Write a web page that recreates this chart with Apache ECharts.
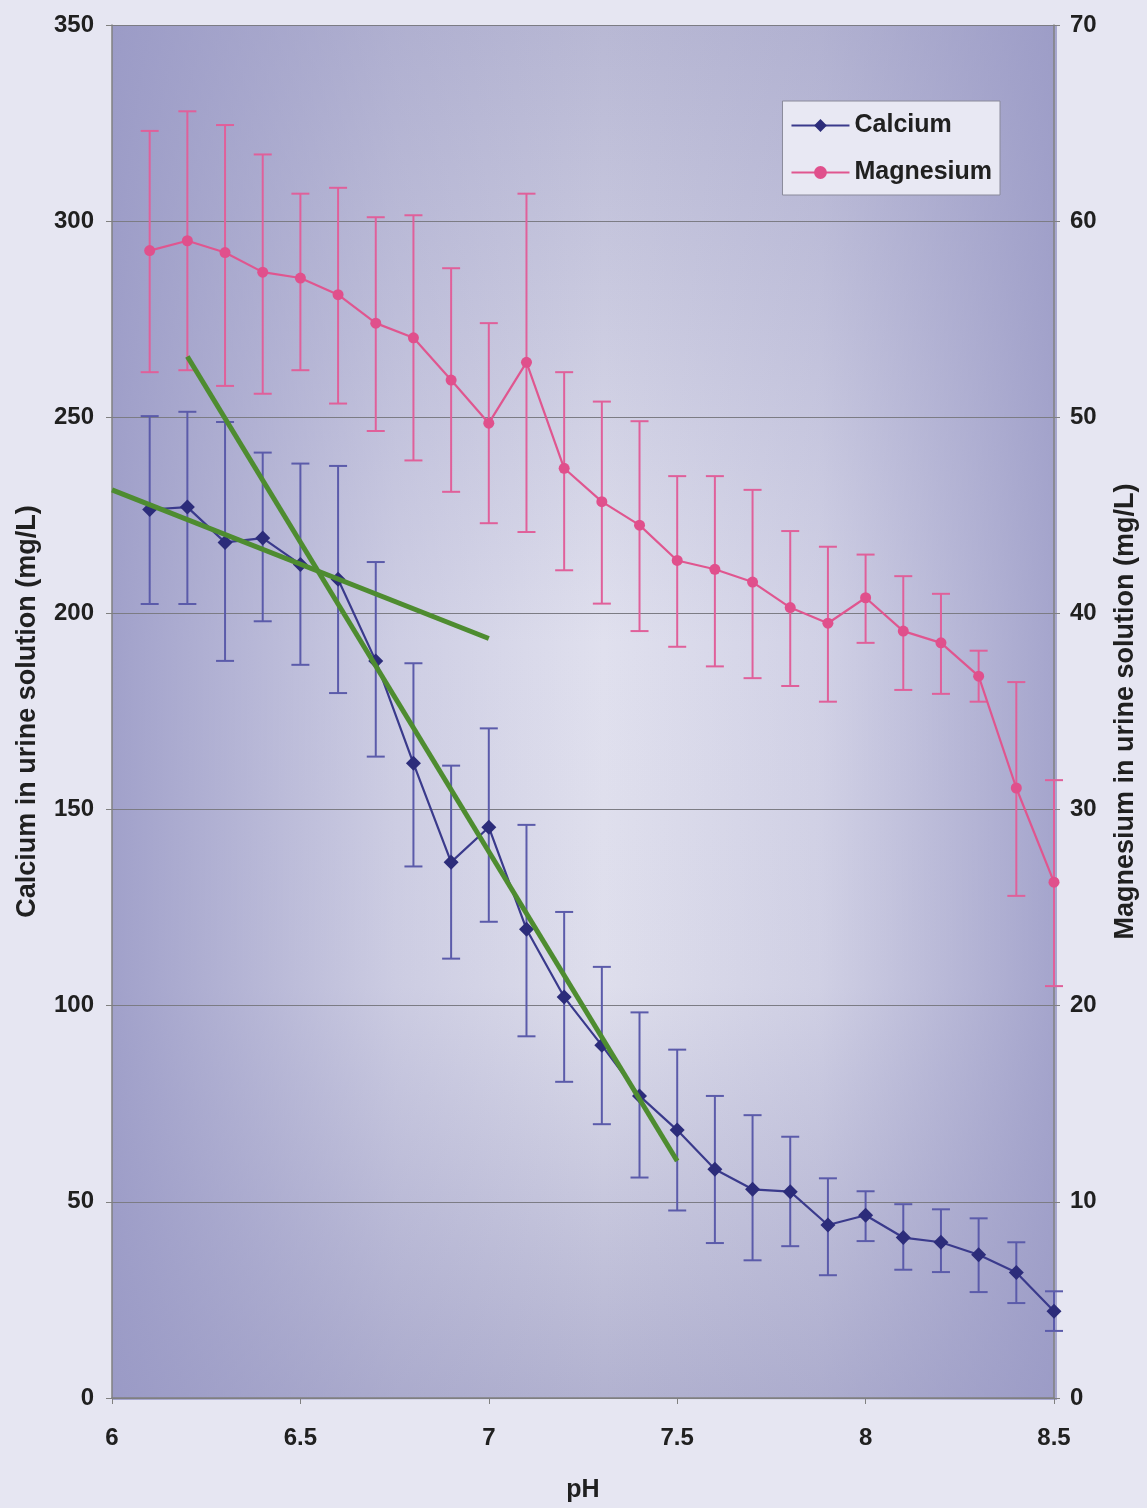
<!DOCTYPE html>
<html>
<head>
<meta charset="utf-8">
<script src="https://cdn.jsdelivr.net/npm/echarts@6/dist/echarts.min.js"></script>
<style>
  html, body { margin: 0; padding: 0; background: #e6e6f2; }
  #main { width: 1147px; height: 1508px; }
</style>
</head>
<body>
<div id="main"></div>
<script>
// pH steps
var ph = [6.1, 6.2, 6.3, 6.4, 6.5, 6.6, 6.7, 6.8, 6.9, 7.0, 7.1, 7.2, 7.3,
          7.4, 7.5, 7.6, 7.7, 7.8, 7.9, 8.0, 8.1, 8.2, 8.3, 8.4, 8.5];

// calcium (mg/L), with error bar top and bottom
var calcium = [226.5, 227.1, 218.1, 219.2, 212.5, 208.7, 187.9, 161.8, 136.6, 145.5, 119.5, 102.2, 89.9,
               77.0, 68.3, 58.3, 53.2, 52.6, 44.1, 46.6, 40.9, 39.7, 36.5, 32.0, 22.1];
var caHigh = [250.3, 251.4, 248.8, 241.0, 238.2, 237.6, 213.1, 187.3, 161.2, 170.7, 146.1, 123.9, 109.9,
              98.3, 88.8, 77.0, 72.1, 66.6, 56.0, 52.7, 49.4, 48.1, 45.8, 39.7, 27.2];
var caLow = [202.4, 202.4, 187.9, 198.0, 186.9, 179.7, 163.5, 135.5, 112.0, 121.4, 92.2, 80.6, 69.8,
             56.2, 47.8, 39.5, 35.1, 38.7, 31.3, 40.0, 32.7, 32.1, 27.0, 24.2, 17.1];

// magnesium (mg/L), with error bar top and bottom
var magnesium = [58.5, 59.0, 58.4, 57.4, 57.1, 56.25, 54.8, 54.05, 51.9, 49.7, 52.8, 47.4, 45.7,
                 44.5, 42.7, 42.25, 41.6, 40.3, 39.5, 40.8, 39.1, 38.5, 36.8, 31.1, 26.3];
var mgHigh = [64.6, 65.6, 64.9, 63.4, 61.4, 61.7, 60.2, 60.3, 57.6, 54.8, 61.4, 52.3, 50.8,
              49.8, 47.0, 47.0, 46.3, 44.2, 43.4, 43.0, 41.9, 41.0, 38.1, 36.5, 31.5];
var mgLow = [52.3, 52.4, 51.6, 51.2, 52.4, 50.7, 49.3, 47.8, 46.2, 44.6, 44.15, 42.2, 40.5,
             39.1, 38.3, 37.3, 36.7, 36.3, 35.5, 38.5, 36.1, 35.9, 35.5, 25.6, 21.0];

// the two green trend lines on calcium, [pH, value] end points
var trendFlat = [[6.0, 231.5], [7.0, 193.6]];
var trendSteep = [[6.2, 265.5], [7.5, 60.4]];

var font = 'Liberation Sans, Arial, sans-serif';
var txt = '#202020';

function pairs(ys) {
    return ph.map(function (p, i) { return [p, ys[i]]; });
}
function bars(lo, hi) {
    return ph.map(function (p, i) { return [p, lo[i], hi[i]]; });
}
function errorBar(color) {
    return function (params, api) {
        var x = api.value(0);
        var lo = api.coord([x, api.value(1)]);
        var hi = api.coord([x, api.value(2)]);
        var hw = 9;
        var st = { stroke: color, lineWidth: 2 };
        return {
            type: 'group',
            children: [
                { type: 'line', shape: { x1: hi[0], y1: hi[1], x2: lo[0], y2: lo[1] }, style: st },
                { type: 'line', shape: { x1: hi[0] - hw, y1: hi[1], x2: hi[0] + hw, y2: hi[1] }, style: st },
                { type: 'line', shape: { x1: lo[0] - hw, y1: lo[1], x2: lo[0] + hw, y2: lo[1] }, style: st }
            ]
        };
    };
}

var chartDom = document.getElementById('main');
var myChart = echarts.init(chartDom, null, { renderer: 'canvas' });

var option = {
    backgroundColor: '#e6e6f2',
    animation: false,
    textStyle: { fontFamily: font },
    grid: {
        left: 112, right: 90, top: 25, bottom: 108,
        show: true,
        borderWidth: 0,
        // vertical shading of the plot area
        backgroundColor: {
            type: 'linear', x: 0, y: 0, x2: 0, y2: 1,
            colorStops: [
                { offset: 0, color: '#b8b8d4' },
                { offset: 0.45, color: '#e0e0ee' },
                { offset: 0.7, color: '#dedeec' },
                { offset: 1, color: '#b2b2d0' }
            ]
        }
    },
    // darker bands on the left and right sides of the plot area
    graphic: [{
        type: 'rect',
        left: 112, top: 25,
        shape: { width: 945, height: 1375 },
        style: {
            fill: {
                type: 'linear', x: 0, y: 0, x2: 1, y2: 0,
                colorStops: [
                    { offset: 0, color: 'rgba(150,150,196,0.85)' },
                    { offset: 0.3, color: 'rgba(150,150,196,0.25)' },
                    { offset: 0.52, color: 'rgba(150,150,196,0)' },
                    { offset: 0.75, color: 'rgba(150,150,196,0.2)' },
                    { offset: 1, color: 'rgba(150,150,196,0.8)' }
                ]
            }
        },
        z: 1,
        silent: true
    }],
    legend: {
        data: ['Calcium', 'Magnesium'],
        orient: 'vertical',
        right: 147, top: 101,
        padding: [12, 8, 10, 8],
        itemGap: 22,
        itemWidth: 58, itemHeight: 16,
        backgroundColor: '#e8e8f3',
        borderColor: '#8a8a9a', borderWidth: 1,
        z: 10,
        textStyle: { fontFamily: font, fontSize: 25, fontWeight: 'bold', color: txt }
    },
    xAxis: {
        type: 'value',
        min: 6, max: 8.5, interval: 0.5,
        name: 'pH',
        nameLocation: 'middle',
        nameGap: 80,
        z: 2,
        nameTextStyle: { fontFamily: font, fontSize: 25, fontWeight: 'bold', color: txt },
        axisLine: { lineStyle: { color: '#808080', width: 1.5 } },
        axisTick: { show: true, length: 6, lineStyle: { color: '#808080' } },
        axisLabel: { margin: 28, fontFamily: font, fontSize: 24, fontWeight: 'bold', color: txt },
        splitLine: { show: false }
    },
    yAxis: [
        {
            type: 'value',
            min: 0, max: 350, interval: 50,
            name: 'Calcium in urine solution (mg/L)',
            nameLocation: 'middle',
            nameGap: 71,
            z: 2,
            nameTextStyle: { fontFamily: font, fontSize: 27, fontWeight: 'bold', color: txt },
            axisLine: { show: true, lineStyle: { color: '#808080', width: 1.5 } },
            axisTick: { show: true, length: 6, lineStyle: { color: '#808080' } },
            axisLabel: { margin: 18, fontFamily: font, fontSize: 24, fontWeight: 'bold', color: txt },
            splitLine: { show: true, lineStyle: { color: '#7c7c84', width: 1.2 } }
        },
        {
            type: 'value',
            min: 0, max: 70, interval: 10,
            name: 'Magnesium in urine solution (mg/L)',
            nameLocation: 'middle',
            nameGap: 58,
            z: 2,
            nameTextStyle: { fontFamily: font, fontSize: 27, fontWeight: 'bold', color: txt },
            axisLine: { show: true, lineStyle: { color: '#808080', width: 1.5 } },
            axisTick: { show: true, length: 6, lineStyle: { color: '#808080' } },
            axisLabel: { margin: 16, fontFamily: font, fontSize: 24, fontWeight: 'bold', color: txt },
            splitLine: { show: false }
        }
    ],
    series: [
        {
            name: 'caErr',
            type: 'custom',
            renderItem: errorBar('#5b5baa'),
            data: bars(caLow, caHigh),
            encode: { x: 0, y: [1, 2] },
            z: 3,
            silent: true
        },
        {
            name: 'mgErr',
            type: 'custom',
            yAxisIndex: 1,
            renderItem: errorBar('#e0609a'),
            data: bars(mgLow, mgHigh),
            encode: { x: 0, y: [1, 2] },
            z: 3,
            silent: true
        },
        {
            name: 'Calcium',
            type: 'line',
            data: pairs(calcium),
            symbol: 'diamond',
            symbolSize: 15,
            itemStyle: { color: '#2c2c7a' },
            lineStyle: { color: '#3a3a8c', width: 2.2 },
            z: 4
        },
        {
            name: 'Magnesium',
            type: 'line',
            yAxisIndex: 1,
            data: pairs(magnesium),
            symbol: 'circle',
            symbolSize: 11,
            itemStyle: { color: '#e0508c' },
            lineStyle: { color: '#e0568f', width: 2.2 },
            z: 4
        },
        {
            name: 'trend1',
            type: 'line',
            data: trendFlat,
            symbol: 'none',
            lineStyle: { color: '#4e8c30', width: 5 },
            z: 5,
            silent: true
        },
        {
            name: 'trend2',
            type: 'line',
            data: trendSteep,
            symbol: 'none',
            lineStyle: { color: '#4e8c30', width: 5 },
            z: 5,
            silent: true
        }
    ]
};

option && myChart.setOption(option);
</script>
</body>
</html>
